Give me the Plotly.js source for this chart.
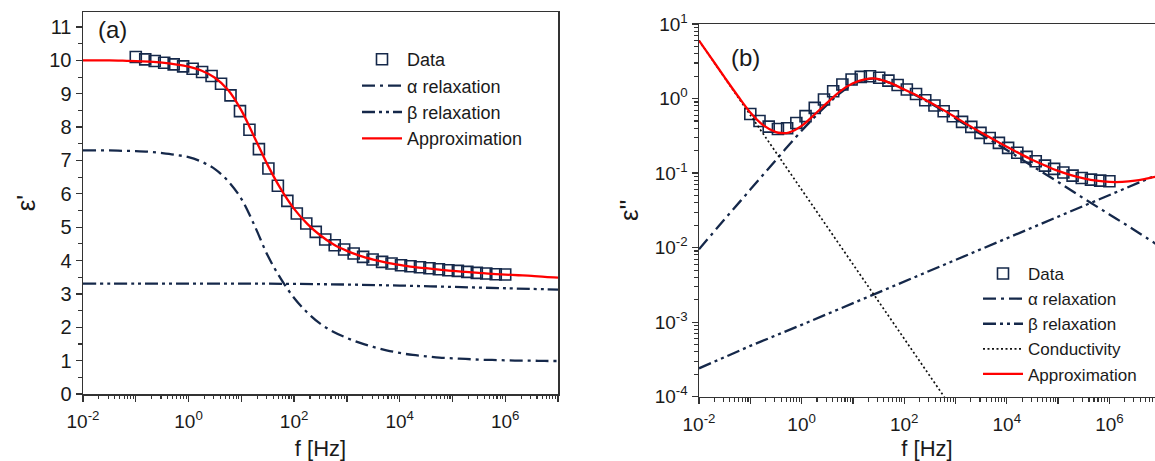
<!DOCTYPE html>
<html>
<head>
<meta charset="utf-8">
<script src="https://cdn.plot.ly/plotly-3.0.1.min.js"></script>
<style>html,body{margin:0;padding:0;background:#fff;}#chart{width:1155px;height:461px;}</style>
</head>
<body>
<div id="chart"></div>
<script>
// ---------- data ----------
// measured frequencies (Hz)
var fData = [0.1, 0.1511, 0.2285, 0.3455, 0.5223, 0.7897, 1.194, 1.805, 2.729, 4.125,
  6.236, 9.428, 14.25, 21.54, 32.57, 49.24, 74.44, 112.5, 170.1, 257.2,
  388.8, 587.8, 888.6, 1343, 2031, 3070, 4642, 7017, 10608, 16037,
  24245, 36653, 55412, 83768, 126638, 191448, 289427, 437548, 661474, 1000000];
// panel (a): eps' data
var epsRealData = [10.10, 10.03, 9.98, 9.93, 9.88, 9.82, 9.75, 9.65, 9.53, 9.30,
  8.95, 8.48, 7.92, 7.34, 6.76, 6.24, 5.79, 5.41, 5.11, 4.86,
  4.63, 4.46, 4.33, 4.21, 4.11, 4.03, 3.96, 3.91, 3.86, 3.83,
  3.80, 3.77, 3.74, 3.71, 3.69, 3.66, 3.63, 3.61, 3.59, 3.58];
// panel (b): eps'' data
var epsLossData = [0.62, 0.50, 0.42, 0.39, 0.40, 0.47, 0.58, 0.75, 0.97, 1.25,
  1.54, 1.80, 1.95, 1.99, 1.90, 1.74, 1.52, 1.32, 1.15, 0.95,
  0.805, 0.676, 0.579, 0.487, 0.417, 0.346, 0.296, 0.254, 0.218, 0.187,
  0.165, 0.144, 0.126, 0.114, 0.102, 0.0925, 0.086, 0.0818, 0.0793, 0.0776];

// panel (a) fitted curves, quarter-decade frequency grid
var fFitA = [0.01, 0.01778, 0.03162, 0.05623, 0.1, 0.1778, 0.3162, 0.5623, 1, 1.778,
  3.162, 5.623, 10, 17.78, 31.62, 56.23, 100, 177.8, 316.2, 562.3,
  1000, 1778, 3162, 5623, 10000, 17783, 31623, 56234, 100000, 177828,
  316228, 562341, 1000000, 1778279, 3162278, 5623413, 10000000];
var epsRealFit = [10.00, 10.00, 10.00, 9.99, 9.98, 9.96, 9.93, 9.88, 9.81, 9.69,
  9.48, 9.11, 8.50, 7.69, 6.86, 6.14, 5.55, 5.10, 4.75, 4.48,
  4.29, 4.14, 4.03, 3.94, 3.87, 3.81, 3.77, 3.73, 3.69, 3.66,
  3.63, 3.60, 3.58, 3.56, 3.54, 3.51, 3.49];
var epsRealAlpha = [7.30, 7.30, 7.30, 7.29, 7.28, 7.26, 7.22, 7.17, 7.10, 6.96,
  6.74, 6.38, 5.85, 5.05, 4.15, 3.45, 2.88, 2.44, 2.10, 1.86,
  1.68, 1.53, 1.41, 1.31, 1.23, 1.17, 1.13, 1.09, 1.07, 1.05,
  1.03, 1.02, 1.01, 1.00, 1.00, 0.99, 0.99];
var fBetaA = [0.01, 0.1, 1, 10, 100, 1000, 10000, 100000, 1000000, 10000000];
var epsRealBeta = [3.31, 3.31, 3.31, 3.31, 3.30, 3.28, 3.25, 3.21, 3.17, 3.13];

// panel (b) curves
var fCond = [0.01, 0.1, 1, 10, 100, 1000];
var epsLossCond = [6.0, 0.6, 0.06, 0.006, 0.0006, 0.00006];
var fBetaB = [0.01, 0.1, 1, 10, 100, 1000, 10000, 100000, 1000000, 10000000];
var epsLossBeta = [0.00024, 0.00048, 0.00092, 0.0018, 0.0035, 0.0069, 0.0133, 0.026, 0.051, 0.099];
var fAlphaB = [0.01, 0.03162, 0.1, 0.3162, 1, 1.778, 3.162, 5.623, 10, 17.78,
  25.12, 31.62, 56.23, 100, 177.8, 316.2, 562.3, 1000, 1778, 3162,
  5623, 10000, 31623, 100000, 316228, 1000000, 3162278, 10000000];
var epsLossAlpha = [0.0095, 0.024, 0.060, 0.15, 0.37, 0.56, 0.83, 1.18, 1.55, 1.80,
  1.85, 1.81, 1.59, 1.31, 1.08, 0.87, 0.69, 0.54, 0.422, 0.331,
  0.26, 0.204, 0.124, 0.076, 0.0457, 0.0279, 0.017, 0.0102];
var fFitB = [0.01, 0.01778, 0.03162, 0.05623, 0.1, 0.1778, 0.3162, 0.3981, 0.5623, 1,
  1.778, 3.162, 5.623, 10, 17.78, 25.12, 31.62, 56.23, 100, 177.8,
  316.2, 562.3, 1000, 1778, 3162, 5623, 10000, 17783, 31623, 56234,
  100000, 177828, 316228, 562341, 1000000, 1778279, 3162278, 5623413, 10000000];
var epsLossFit = [6.0, 3.4, 1.92, 1.10, 0.65, 0.44, 0.355, 0.345, 0.35, 0.43,
  0.61, 0.88, 1.25, 1.60, 1.82, 1.86, 1.82, 1.60, 1.32, 1.10,
  0.89, 0.71, 0.56, 0.44, 0.35, 0.28, 0.225, 0.183, 0.150, 0.126,
  0.107, 0.094, 0.085, 0.079, 0.076, 0.076, 0.079, 0.085, 0.092];

// tick labels
var xTickVals = [0.01, 0.1, 1, 10, 100, 1000, 10000, 100000, 1000000, 10000000];
var xTickText = ['10<sup>-2</sup>', '', '10<sup>0</sup>', '', '10<sup>2</sup>', '', '10<sup>4</sup>', '', '10<sup>6</sup>', ''];
var yTickValsB = [0.0001, 0.001, 0.01, 0.1, 1, 10];
var yTickTextB = ['10<sup>-4</sup>', '10<sup>-3</sup>', '10<sup>-2</sup>', '10<sup>-1</sup>', '10<sup>0</sup>', '10<sup>1</sup>'];
var legendNames = ['Data', '\u03b1 relaxation', '\u03b2 relaxation', 'Conductivity', 'Approximation'];

// ---------- styles ----------
var NAVY = '#15284a';
var RED = '#ff0000';
var FONT = 'Liberation Sans, Arial, sans-serif';
var TXT = '#1a1a1a';
var dashAlpha = '13px,5px,3px,5px';
var dashBeta = '13px,4px,3px,4px,3px,4px';

var traces = [
  {x: fData, y: epsRealData, type: 'scatter', mode: 'markers', name: legendNames[0],
   marker: {symbol: 'square-open', size: 11, color: NAVY, line: {width: 1.6, color: NAVY}},
   xaxis: 'x', yaxis: 'y', legend: 'legend'},
  {x: fFitA, y: epsRealAlpha, type: 'scatter', mode: 'lines', name: legendNames[1],
   line: {color: NAVY, width: 2.3, dash: dashAlpha, shape: 'spline'}, xaxis: 'x', yaxis: 'y', legend: 'legend'},
  {x: fBetaA, y: epsRealBeta, type: 'scatter', mode: 'lines', name: legendNames[2],
   line: {color: NAVY, width: 2.3, dash: dashBeta, shape: 'spline'}, xaxis: 'x', yaxis: 'y', legend: 'legend'},
  {x: fFitA, y: epsRealFit, type: 'scatter', mode: 'lines', name: legendNames[4],
   line: {color: RED, width: 2.3, shape: 'spline'}, xaxis: 'x', yaxis: 'y', legend: 'legend'},

  {x: fData, y: epsLossData, type: 'scatter', mode: 'markers', name: legendNames[0],
   marker: {symbol: 'square-open', size: 11, color: NAVY, line: {width: 1.6, color: NAVY}},
   xaxis: 'x2', yaxis: 'y2', legend: 'legend2'},
  {x: fAlphaB, y: epsLossAlpha, type: 'scatter', mode: 'lines', name: legendNames[1],
   line: {color: NAVY, width: 2.3, dash: dashAlpha, shape: 'spline'}, xaxis: 'x2', yaxis: 'y2', legend: 'legend2'},
  {x: fBetaB, y: epsLossBeta, type: 'scatter', mode: 'lines', name: legendNames[2],
   line: {color: NAVY, width: 2.3, dash: dashBeta}, xaxis: 'x2', yaxis: 'y2', legend: 'legend2'},
  {x: fCond, y: epsLossCond, type: 'scatter', mode: 'lines', name: legendNames[3],
   line: {color: '#111111', width: 1.7, dash: '2px,2.5px'}, xaxis: 'x2', yaxis: 'y2', legend: 'legend2'},
  {x: fFitB, y: epsLossFit, type: 'scatter', mode: 'lines', name: legendNames[4],
   line: {color: RED, width: 2.3, shape: 'spline'}, xaxis: 'x2', yaxis: 'y2', legend: 'legend2'}
];

var axisCommon = {
  showline: true, linecolor: '#333', linewidth: 1.5, ticks: 'outside', ticklen: 6, tickwidth: 1.3,
  tickcolor: '#333', showgrid: false, zeroline: false,
  tickfont: {family: FONT, size: 19, color: TXT}
};
function ax(extra) { var o = {}; for (var k in axisCommon) o[k] = axisCommon[k]; for (var k2 in extra) o[k2] = extra[k2]; return o; }
var minorLog = {dtick: 'D1', ticks: 'outside', ticklen: 3.5, tickwidth: 1.1, tickcolor: '#333'};

var W = 1155, H = 461;
var layout = {
  width: W, height: H,
  margin: {l: 0, r: 0, t: 0, b: 0},
  paper_bgcolor: '#fff', plot_bgcolor: '#fff',
  font: {family: FONT, size: 19, color: TXT},
  xaxis: ax({type: 'log', range: [-2, 7], domain: [83 / W, 558 / W], anchor: 'y', mirror: true,
    tickmode: 'array', tickvals: xTickVals, ticktext: xTickText, minor: minorLog, ticklabelstandoff: 4,
    title: {text: 'f [Hz]', font: {family: FONT, size: 22, color: TXT}, standoff: 9}}),
  yaxis: ax({range: [0, 11.45], domain: [(H - 394) / H, (H - 12) / H], anchor: 'x', mirror: true,
    tickmode: 'linear', tick0: 0, dtick: 1, tickfont: {family: FONT, size: 20, color: TXT},
    minor: {dtick: 0.5, ticks: 'outside', ticklen: 3.5, tickwidth: 1.1, tickcolor: '#333'},
    title: {text: "\u03b5'", font: {family: FONT, size: 26, color: TXT}, standoff: 6}}),
  xaxis2: ax({type: 'log', range: [-2, (W - 699) / 51.3 - 2], domain: [699 / W, 1], anchor: 'y2', mirror: true,
    tickmode: 'array', tickvals: xTickVals, ticktext: xTickText, minor: minorLog, ticklabelstandoff: 4,
    title: {text: 'f [Hz]', font: {family: FONT, size: 22, color: TXT}, standoff: 9}}),
  yaxis2: ax({type: 'log', range: [-4, 1], domain: [(H - 396.7) / H, (H - 24) / H], anchor: 'x2', mirror: false,
    tickmode: 'array', tickvals: yTickValsB, ticktext: yTickTextB, minor: minorLog,
    title: {text: "\u03b5''", font: {family: FONT, size: 26, color: TXT}, standoff: 8}}),
  legend: {x: 357 / W, y: (H - 41) / H, xanchor: 'left', yanchor: 'top', bgcolor: 'rgba(0,0,0,0)',
    font: {family: FONT, size: 18, color: TXT}, itemwidth: 40, tracegroupgap: 0},
  legend2: {x: 978 / W, y: (H - 256) / H, xanchor: 'left', yanchor: 'top', bgcolor: 'rgba(0,0,0,0)',
    font: {family: FONT, size: 17, color: TXT}, itemwidth: 40, tracegroupgap: 0},
  annotations: [
    {text: '(a)', xref: 'paper', yref: 'paper', x: 96 / W, y: (H - 30) / H, xanchor: 'left', yanchor: 'middle',
     showarrow: false, font: {family: FONT, size: 24, color: TXT}},
    {text: '(b)', xref: 'paper', yref: 'paper', x: 729 / W, y: (H - 57) / H, xanchor: 'left', yanchor: 'middle',
     showarrow: false, font: {family: FONT, size: 24, color: TXT}}
  ],
  showlegend: true
};

Plotly.newPlot('chart', traces, layout, {displayModeBar: false, staticPlot: true});
</script>
</body>
</html>
